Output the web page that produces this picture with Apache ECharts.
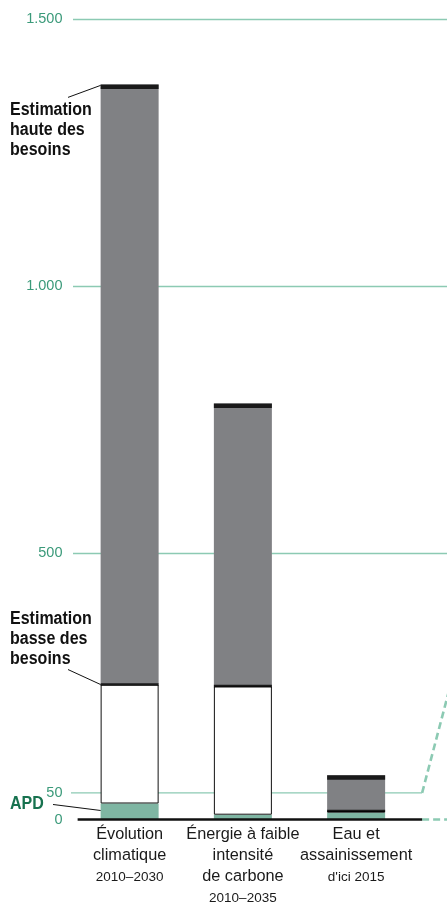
<!DOCTYPE html>
<html><head><meta charset="utf-8">
<script src="https://cdn.jsdelivr.net/npm/echarts@6/dist/echarts.min.js"></script>
<style>html,body{margin:0;padding:0;background:#fff}#c{width:447px;height:907px}</style>
</head><body><div id="c"></div>
<script>
// ---- data ----
const categories = ['Évolution climatique', 'Énergie à faible intensité de carbone', 'Eau et assainissement', ''];
const categoryLines = [['Évolution', 'climatique'], ['Énergie à faible', 'intensité', 'de carbone'], ['Eau et', 'assainissement'], []];
const periods = ['2010–2030', '2010–2035', "d'ici 2015", ''];
const apd = [30, 9, 13, null];
const lowEstimate = [253, 250, 16, null];
const highEstimate = [1378, 780, 83, null];
const yTickValues = [0, 500, 1000, 1500];
const extraTick = 50;
const annotations = ['Estimation\nhaute des\nbesoins', 'Estimation\nbasse des\nbesoins', 'APD'];

// ---- derived ----
const whitePart = lowEstimate.map((v, i) => v == null ? null : v - apd[i]);
const greyPart = highEstimate.map((v, i) => v == null ? null : v - lowEstimate[i]);

const FONT = "'Liberation Sans',Arial,sans-serif";
const TEAL_LINE = '#8ccab3';
const TEAL_TEXT = '#3b9a7a';
const TEAL_BAR = '#7fb6a3';
const GREY = '#808184';
const fmt = v => String(v).replace(/\B(?=(\d{3})+(?!\d))/g, '.');

const chart = echarts.init(document.getElementById('c'), null, {renderer: 'canvas'});
const BW = 58;
chart.setOption({
  animation: false,
  backgroundColor: '#fff',
  grid: {left: 73, width: 453, top: 19.3, bottom: 87.5, containLabel: false, outerBoundsMode: 'none'},
  xAxis: {
    type: 'category', data: categories,
    axisLine: {show: false}, axisTick: {show: false}, splitLine: {show: false},
    axisLabel: {
      interval: 0, margin: 5,
      formatter: (v, i) => categoryLines[i].map(l => '{a|' + l + '}').concat(periods[i] ? ['{b|' + periods[i] + '}'] : []).join('\n'),
      rich: {
        a: {fontFamily: FONT, fontSize: 16.3, lineHeight: 21, color: '#1a1a1a'},
        b: {fontFamily: FONT, fontSize: 13.5, lineHeight: 21, color: '#1a1a1a'}
      }
    }
  },
  yAxis: {
    type: 'value', min: 0, max: 1500, interval: 500,
    axisLine: {show: false}, axisTick: {show: false},
    axisLabel: {fontFamily: FONT, fontSize: 14.5, color: TEAL_TEXT, margin: 10.5,
      formatter: v => yTickValues.includes(v) ? fmt(v) : ''},
    splitLine: {show: true, showMinLine: false, lineStyle: {color: TEAL_LINE, width: 1.3}}
  },
  series: [
    {name: 'APD', type: 'bar', stack: 's', barWidth: BW, data: apd, itemStyle: {color: TEAL_BAR}, z: 3},
    {name: 'Basse', type: 'bar', stack: 's', barWidth: BW, data: whitePart,
      itemStyle: {color: '#fff', borderColor: '#111', borderWidth: 1}, z: 3},
    {name: 'Haute', type: 'bar', stack: 's', barWidth: BW, data: greyPart, itemStyle: {color: GREY}, z: 3},
    {name: 'capHigh', type: 'scatter', data: highEstimate, symbol: 'rect', symbolSize: [BW, 4.6],
      symbolOffset: [0, 2.3], itemStyle: {color: '#000'}, z: 5, silent: true},
    {name: 'capLow', type: 'scatter', data: lowEstimate, symbol: 'rect', symbolSize: [BW, 2.6],
      itemStyle: {color: '#000'}, z: 5, silent: true}
  ]
});

// ---- decorations positioned through the chart's scales ----
const px = (i, v) => chart.convertToPixel({gridIndex: 0}, [i, v]);
const [c0, y0] = px(0, 0);
const c2 = px(2, 0)[0];
const y50 = px(0, extraTick)[1];
const yHigh = px(0, highEstimate[0])[1];
const yLow = px(0, lowEstimate[0])[1];
const yApd = px(0, apd[0] / 2)[1];
const barLeft = c0 - BW / 2;
const xe = c2 + BW / 2 + 37;
const xs = 71;

const annoStyle = {fontFamily: FONT, fontSize: 18, fontWeight: 'bold', lineHeight: 20, fill: '#111', textVerticalAlign: 'top'};
const SX = 0.89;
chart.setOption({
  graphic: [
    {type: 'line', z: 1, shape: {x1: xs, y1: y50, x2: xe, y2: y50}, style: {stroke: TEAL_LINE, lineWidth: 1.3}},
    {type: 'line', z: 1, shape: {x1: xe, y1: y50, x2: xe + 32, y2: y50 - 32 * 3.8}, style: {stroke: TEAL_LINE, lineWidth: 2.6, lineDash: [7, 4]}},
    {type: 'line', z: 1, shape: {x1: xe, y1: y0, x2: xe + 32, y2: y0}, style: {stroke: TEAL_LINE, lineWidth: 2.6, lineDash: [7, 4]}},
    {type: 'line', z: 10, shape: {x1: barLeft - 23, y1: y0, x2: xe, y2: y0}, style: {stroke: '#111', lineWidth: 2.6}},
    {type: 'text', z: 10, x: 62.5, y: y50, style: {text: String(extraTick), fontFamily: FONT, fontSize: 14.5, fill: TEAL_TEXT, textAlign: 'right', textVerticalAlign: 'middle'}},
    {type: 'text', z: 10, x: 10, y: 100.5, scaleX: SX, style: Object.assign({text: annotations[0]}, annoStyle)},
    {type: 'line', z: 10, shape: {x1: 68, y1: yHigh + 13, x2: barLeft, y2: yHigh + 1}, style: {stroke: '#111', lineWidth: 1}},
    {type: 'text', z: 10, x: 10, y: 609, scaleX: SX, style: Object.assign({text: annotations[1]}, annoStyle)},
    {type: 'line', z: 10, shape: {x1: 68, y1: yLow - 15, x2: barLeft, y2: yLow}, style: {stroke: '#111', lineWidth: 1}},
    {type: 'text', z: 10, x: 10, y: 794, scaleX: SX, style: Object.assign({text: annotations[2]}, annoStyle, {fill: '#17724f'})},
    {type: 'line', z: 10, shape: {x1: 53, y1: yApd - 7, x2: barLeft, y2: yApd - 1}, style: {stroke: '#111', lineWidth: 1}}
  ]
});
</script></body></html>
